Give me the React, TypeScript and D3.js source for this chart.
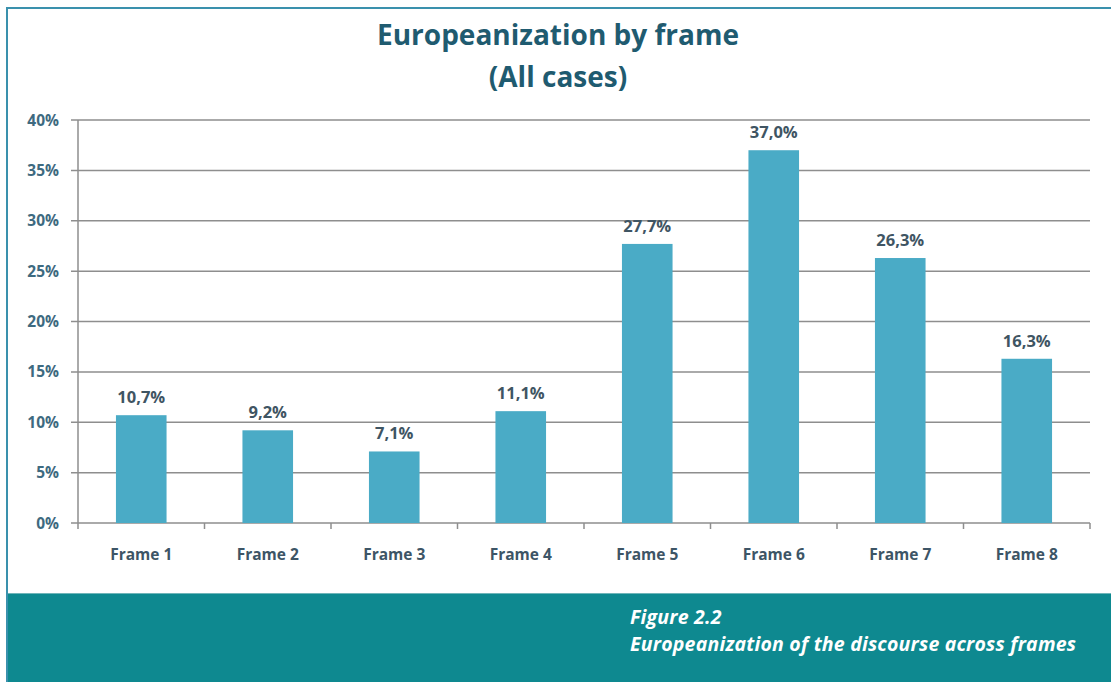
import React from "react";
import * as d3 from "d3";

const categories = ["Frame 1", "Frame 2", "Frame 3", "Frame 4", "Frame 5", "Frame 6", "Frame 7", "Frame 8"];
const values = [10.7, 9.2, 7.1, 11.1, 27.7, 37.0, 26.3, 16.3];
const yTicks = [0, 5, 10, 15, 20, 25, 30, 35, 40];
const titleLines = ["Europeanization by frame", "(All cases)"];
const footerLines = ["Figure 2.2", "Europeanization of the discourse across frames"];

const W = 1111;
const H = 682;
const FONT = "'Open Sans', 'DejaVu Sans', sans-serif";

export default function App() {
  const left = 78, right = 1090, top = 120, bottom = 523;
  const x = d3.scaleBand<string>().domain(categories).range([left, right]).paddingInner(0.6).paddingOuter(0.3);
  const xb = d3.scaleBand<string>().domain(categories).range([left, right]);
  const y = d3.scaleLinear().domain([0, 40]).range([bottom, top]);
  const fmt = (v: number) => v.toFixed(1).replace(".", ",") + "%";

  return (
    <svg width={W} height={H} style={{ position: "absolute", left: 0, top: 0, background: "#fff" }} fontFamily={FONT}>
      <rect x={0} y={0} width={W} height={H} fill="#fff" />
      {/* frame border */}
      <line x1={6} x2={W} y1={8} y2={8} stroke="#3a91ad" strokeWidth={2} />
      <line x1={7} x2={7} y1={8} y2={H} stroke="#3a91ad" strokeWidth={2} />
      {/* footer band */}
      <rect x={8} y={593} width={W - 8} height={H - 593} fill="#0e8990" />
      <line x1={8} x2={W} y1={593.5} y2={593.5} stroke="#6fb5b9" strokeWidth={1} />
      {footerLines.map((t, i) => (
        <text key={t} x={630} y={624 + i * 27} fill="#fff" fontSize={19.5} fontWeight="bold" fontStyle="italic" letterSpacing={0.2}>{t}</text>
      ))}
      {/* title */}
      {titleLines.map((t, i) => (
        <text key={t} x={558} y={45 + i * 42} textAnchor="middle" fill="#1f5b70" fontSize={28} fontWeight="bold">{t}</text>
      ))}
      {/* gridlines */}
      {yTicks.map((t) => (
        <g key={t}>
          <line x1={71} x2={right} y1={y(t)} y2={y(t)} stroke="#8e8e8e" strokeWidth={1.5} />
          <text x={59} y={y(t) + 5.5} textAnchor="end" fill="#3e6a80" fontSize={15.5} fontWeight="bold">{t + "%"}</text>
        </g>
      ))}
      {/* y axis */}
      <line x1={left} x2={left} y1={top} y2={bottom} stroke="#8e8e8e" strokeWidth={1.5} />
      {/* x ticks */}
      {categories.map((c) => (
        <line key={c} x1={(xb(c) as number) + xb.bandwidth()} x2={(xb(c) as number) + xb.bandwidth()} y1={bottom} y2={bottom + 6} stroke="#8e8e8e" strokeWidth={1.5} />
      ))}
      <line x1={left} x2={left} y1={bottom} y2={bottom + 6} stroke="#8e8e8e" strokeWidth={1.5} />
      {/* bars */}
      {categories.map((c, i) => (
        <rect key={c} x={x(c)} y={y(values[i])} width={x.bandwidth()} height={bottom - y(values[i])} fill="#4aabc6" />
      ))}
      {/* value labels */}
      {categories.map((c, i) => (
        <text key={c} x={(x(c) as number) + x.bandwidth() / 2} y={y(values[i]) - 12} textAnchor="middle" fill="#3f5563" fontSize={16.5} fontWeight="bold">{fmt(values[i])}</text>
      ))}
      {/* x labels */}
      {categories.map((c) => (
        <text key={c} x={(xb(c) as number) + xb.bandwidth() / 2} y={560} textAnchor="middle" fill="#3d5566" fontSize={15.5} fontWeight="bold">{c}</text>
      ))}
    </svg>
  );
}
